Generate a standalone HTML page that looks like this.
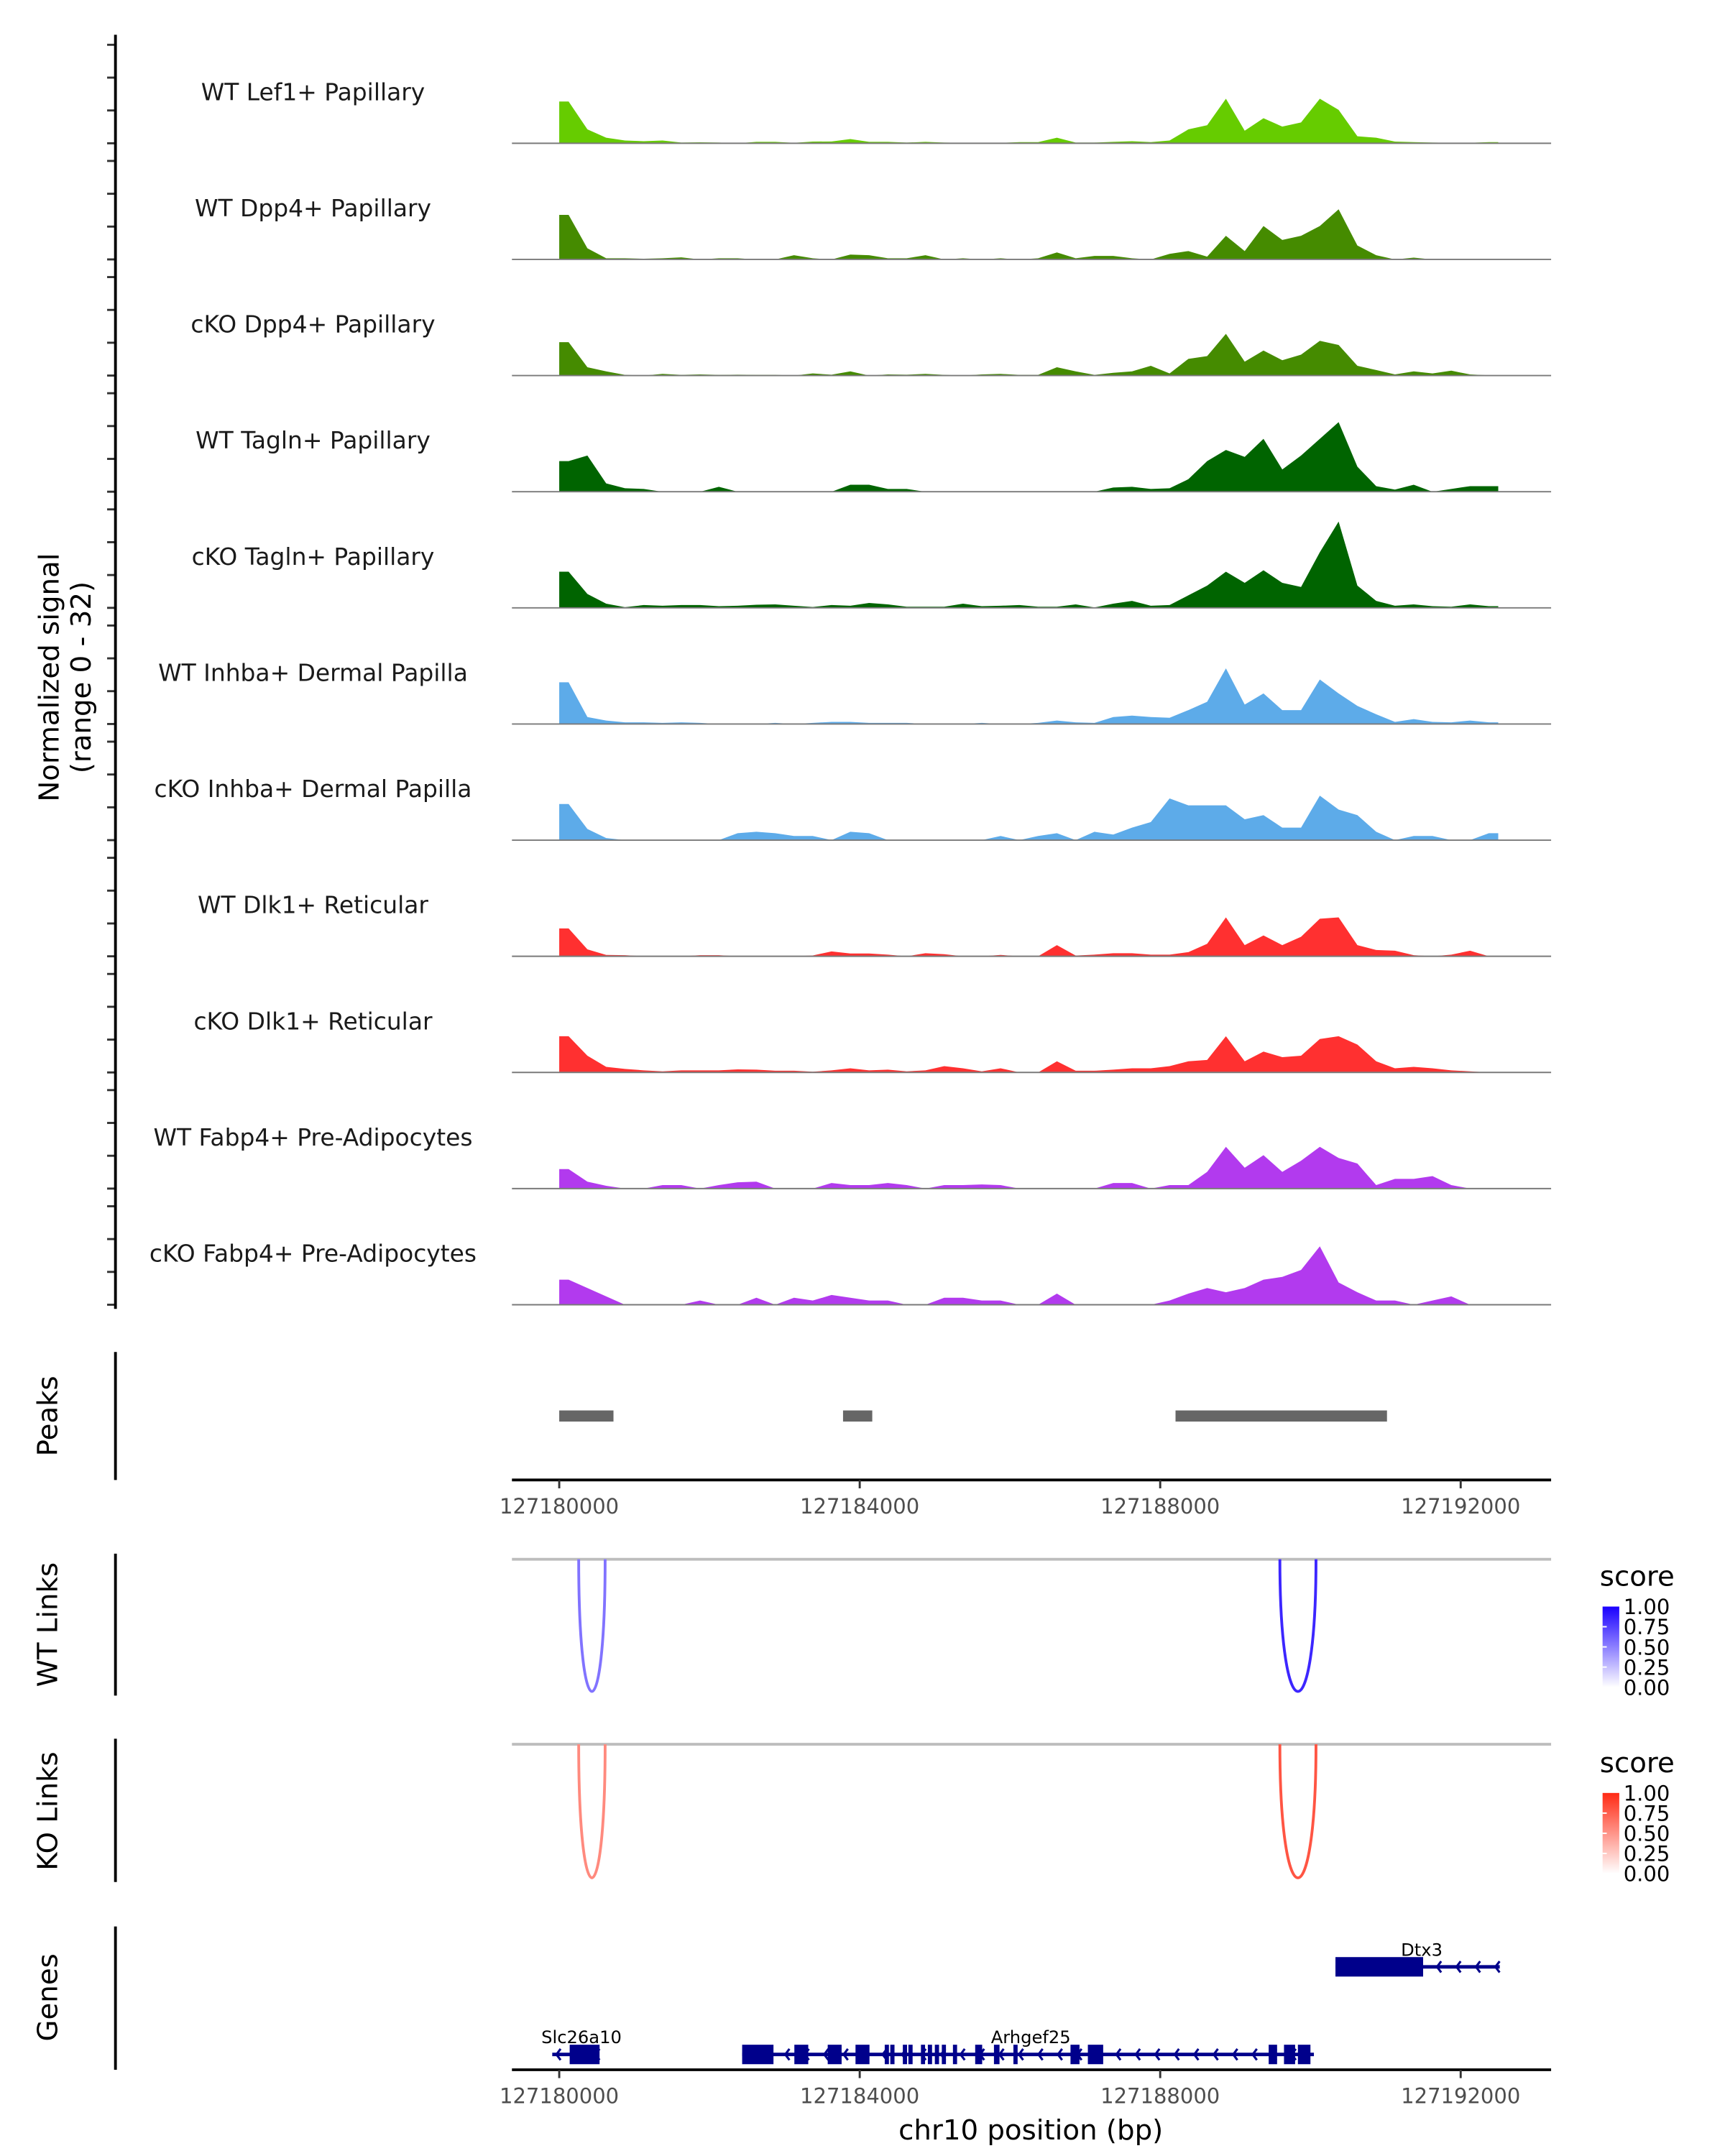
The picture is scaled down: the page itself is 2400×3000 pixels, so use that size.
<!DOCTYPE html>
<html><head><meta charset="utf-8"><style>
html,body{margin:0;padding:0;background:#fff;}
svg{display:block;}
text{font-family:"DejaVu Sans","Liberation Sans",sans-serif;}
</style></head>
<body>
<svg id="chart" xmlns="http://www.w3.org/2000/svg" width="2400" height="3000" viewBox="0 0 1240 1550" preserveAspectRatio="none">
<rect x="0" y="0" width="1240" height="1550" fill="#fff"/>
<g id="tracks"></g>
<line x1="83" y1="25" x2="83" y2="941" stroke="#000" stroke-width="2"/>
<text transform="translate(42,487) rotate(-90)" text-anchor="middle" font-size="20" fill="#000">Normalized signal</text>
<text transform="translate(65,487) rotate(-90)" text-anchor="middle" font-size="20" fill="#000">(range 0 - 32)</text>
<g id="peaks"></g>
<line x1="83" y1="972" x2="83" y2="1064" stroke="#000" stroke-width="2"/>
<text transform="translate(41,1018) rotate(-90)" text-anchor="middle" font-size="20" fill="#000">Peaks</text>
<g id="links"></g>
<line x1="83" y1="1117" x2="83" y2="1219" stroke="#000" stroke-width="2"/>
<text transform="translate(41,1168) rotate(-90)" text-anchor="middle" font-size="20" fill="#000">WT Links</text>
<line x1="83" y1="1250" x2="83" y2="1353" stroke="#000" stroke-width="2"/>
<text transform="translate(41,1302) rotate(-90)" text-anchor="middle" font-size="20" fill="#000">KO Links</text>
<g id="genes"></g>
<line x1="83" y1="1385" x2="83" y2="1488" stroke="#000" stroke-width="2"/>
<text transform="translate(41,1436) rotate(-90)" text-anchor="middle" font-size="20" fill="#000">Genes</text>
<text x="741" y="1538" text-anchor="middle" font-size="20" fill="#000">chr10 position (bp)</text>
<defs>
<linearGradient id="gradWT" x1="0" y1="1" x2="0" y2="0"><stop offset="0" stop-color="#ffffff"/><stop offset="1" stop-color="#1a00ff"/></linearGradient>
<linearGradient id="gradKO" x1="0" y1="1" x2="0" y2="0"><stop offset="0" stop-color="#ffffff"/><stop offset="1" stop-color="#ff2a14"/></linearGradient>
</defs>
</svg>
<script>
// ---- data ----
const trackNames = ["WT Lef1+ Papillary","WT Dpp4+ Papillary","cKO Dpp4+ Papillary","WT Tagln+ Papillary","cKO Tagln+ Papillary","WT Inhba+ Dermal Papilla","cKO Inhba+ Dermal Papilla","WT Dlk1+ Reticular","cKO Dlk1+ Reticular","WT Fabp4+ Pre-Adipocytes","cKO Fabp4+ Pre-Adipocytes"];
const trackColors = ["#66cc00","#458b00","#458b00","#006400","#006400","#5dabe9","#5dabe9","#ff3030","#ff3030","#b23aee","#b23aee"];
// signal per 250bp bin from 127180000 (scale units: 0-80 = full track)
const sigLef1WT = [30,10,4,2,1.5,2,0.5,0.7,0.5,0,1,1,0.3,1.2,1.3,3,1,1,0.5,1,0.5,0.3,0,0.3,0.8,0.8,4,0.5,0.5,1,1.5,0.8,2,10,13,32,9,18,12,15,32,24,5,4,1.2,0.8,0.5,0.3,0.3,0.8];
const sigDpp4WT = [32,8,0.8,0.8,0.5,0.8,1.5,0,0.8,0.8,0,0,3,0.8,0,3.5,3,0.8,0.8,3,0,0.8,0,0.8,0,0.8,5,0.8,2.5,2.5,0.8,0,4,6,2,17,6,24,14,17,24,36,10,3,0,1.3,0,0,0,0.5];
const sigDpp4KO = [24,6,3,0.5,0,1.2,0.5,0.8,0.5,0.6,0.5,0.5,0,1.5,0.6,3,0,0.8,0.6,1.2,0.5,0,0.8,1.2,0.5,0.5,6,3,0.5,2,3,7,1.5,12,14,30,10,18,11,15,25,22,7,4,0.8,3,1.5,3.5,0.8,0.2];
const sigTaglnWT = [22,26,6,2.5,2,0,0,0,3.5,0,0,0,0,0,0,5,5,2,2,0,0,0,0,0,0,0,0,0,0,3,3.5,2,2.5,9,22,30,25,38,16,26,38,50,18,4,1.5,5,0,2,4,4];
const sigTaglnKO = [26,10,3,0.5,2,1.5,2,2,1.2,1.5,2.2,2.5,1.5,0.6,2,1.5,3.5,2.5,0.8,0.8,0.8,3,1.2,1.5,2,0.8,0.8,2.5,0.3,3,5,1.5,2,9,16,26,18,27,18,15,40,62,16,5,1.5,2.5,1.2,0.8,2.5,1.2];
const sigInhbaWT = [30,5,2.5,1.2,1.2,0.8,1.2,0.8,0,0,0,0.8,0,0.8,1.5,1.5,0.8,0.8,0.8,0,0,0,0.8,0,0,0.8,2.5,1.2,0.8,5,6,5,4.5,10,16,40,14,22,10,10,32,22,13,7,1.5,3.5,1.5,1.2,2.5,1.2];
const sigInhbaKO = [26,8,1.5,0,0,0,0,0,0,5,6,5,3,3,0,6,5,0,0,0,0,0,0,3,0,3,5,0,6,4,9,13,30,25,25,25,15,18,9,9,32,22,18,6,0,3,3,0,0,5];
const sigDlk1WT = [20,5,1,0.8,0,0,0,0.8,0.8,0,0,0,0,0.6,3.5,2,2,1.2,0,2.2,1.5,0,0,1,0,0,8,0.5,1.2,2.2,2.2,1.2,1.2,3,9,28,8,15,8,14,27,28,8,4.5,4,0.8,0,1.2,4,0];
const sigDlk1KO = [26,12,4,2.5,1.5,0.8,1.5,1.5,1.5,2.2,2,1.2,1.2,0.5,1.5,3,1.5,2,0.8,1.5,4.5,3,0.8,3,0,0,8,1.2,1.2,2,3,3,4.5,8,9,26,8,15,11,12,24,26,20,8,3,4,3,1.5,0.8,0];
const sigFabp4WT = [14,5,2,0,0,2.5,2.5,0,2.5,4.5,5,0,0,0,4,2.5,2.5,4,2.5,0,2.5,2.5,3,2.5,0,0,0,0,0,4,4,0,2.5,2.5,12,30,15,24,12,20,30,22,18,2.5,7,7,9,2.5,0,0];
const sigFabp4KO = [18,12,6,0,0,0,0,3,0,0,5,0,5,3,7,5,3,3,0,0,5,5,3,3,0,0,8,0,0,0,0,0,3,8,12,9,12,18,20,25,42,16,9,3,3,0,3,6,0,0];
const trackSignals = [sigLef1WT,sigDpp4WT,sigDpp4KO,sigTaglnWT,sigTaglnKO,sigInhbaWT,sigInhbaKO,sigDlk1WT,sigDlk1KO,sigFabp4WT,sigFabp4KO];
const binKb = 0.25;
// peaks (kb offset from 127180000)
const peakStarts = [0, 3.778, 8.204];
const peakEnds = [0.722, 4.167, 11.019];
// links (kb offsets) and scores
const wtLinkStarts = [0.259, 9.593];
const wtLinkEnds = [0.611, 10.074];
const wtLinkScores = [0.55, 0.85];
const koLinkStarts = [0.259, 9.593];
const koLinkEnds = [0.611, 10.074];
const koLinkScores = [0.55, 0.8];
// genes
const geneNames = ["Slc26a10","Arhgef25","Dtx3"];
const geneStarts = [-0.093, 2.435, 10.333];
const geneEnds = [0.519, 10.046, 12.52];
const geneRows = [1, 1, 0];
const exonGene = [0,1,1,1,1,1,1,1,1,1,1,1,1,1,1,1,1,1,1,1,1,1,2];
const exonStarts = [0.139,2.435,3.130,3.574,3.944,4.333,4.407,4.574,4.648,4.815,4.907,5.000,5.093,5.241,5.537,5.787,6.046,6.806,7.037,9.444,9.648,9.833,10.333];
const exonEnds = [0.537,2.852,3.315,3.759,4.130,4.389,4.463,4.630,4.704,4.870,4.963,5.056,5.148,5.296,5.630,5.861,6.102,6.926,7.241,9.556,9.796,10.000,11.5];
const xTickKb = [0, 4, 8, 12];
const xTickLabels = ["127180000","127184000","127188000","127192000"];
const legendTicks = [1.00, 0.75, 0.50, 0.25, 0.00];
const legendTickLabels = ["1.00","0.75","0.50","0.25","0.00"];

// ---- scales ----
const NS = "http://www.w3.org/2000/svg";
const X0 = 402, PXKB = 54;
function xs(kb){ return X0 + kb * PXKB; }
const trackTop = 103, trackStep = 83.5, trackMax = 80;
function ys(v, base){ return base - v / trackMax * 80; }
function el(tag, attrs, parent){ const e = document.createElementNS(NS, tag); for (const k in attrs) e.setAttribute(k, attrs[k]); parent.appendChild(e); return e; }

const tracksG = document.getElementById('tracks');
trackNames.forEach((name, t) => {
  const base = trackTop + t * trackStep;
  const vals = trackSignals[t];
  let d = `M${xs(0)},${base} L${xs(0)},${ys(vals[0], base)}`;
  vals.forEach((v, i) => { d += ` L${xs((i + 0.5) * binKb).toFixed(2)},${ys(v, base).toFixed(2)}`; });
  d += ` L${xs(vals.length * binKb)},${ys(vals[vals.length-1], base)} L${xs(vals.length * binKb)},${base} Z`;
  const area = el('path', {d: d, fill: trackColors[t]}, tracksG);
  
  
  const bl = el('line', {x1: 368, x2: 1115, y1: base, y2: base, stroke: '#7a7a7a', 'stroke-width': 1}, tracksG);
  
  
  const lbl = el('text', {x: 225, y: base - 31, 'text-anchor': 'middle', 'font-size': 17, fill: '#1a1a1a'}, tracksG);
  lbl.textContent = name;
  
  
  for (let k = 0; k < 4; k++) {
    const tk = el('line', {x1: 77, x2: 83, y1: base - k * 23.6, y2: base - k * 23.6, stroke: '#333', 'stroke-width': 1.5}, tracksG);
    
    
  }
});

// peaks
const peaksG = document.getElementById('peaks');
peakStarts.forEach((s, i) => {
  const r = el('rect', {x: xs(s), y: 1014, width: xs(peakEnds[i]) - xs(s), height: 8, fill: '#666'}, peaksG);
  
  
});
function xAxis(y, g) {
  const ax = el('line', {x1: 368, x2: 1115, y1: y, y2: y, stroke: '#000', 'stroke-width': 2}, g);
  
  
  xTickKb.forEach((kb, i) => {
    const tk = el('line', {x1: xs(kb), x2: xs(kb), y1: y, y2: y + 6, stroke: '#333', 'stroke-width': 1.5}, g);
    
    
    const tl = el('text', {x: xs(kb), y: y + 24, 'text-anchor': 'middle', 'font-size': 15, fill: '#4d4d4d'}, g);
    tl.textContent = xTickLabels[i];
    
    
  });
}
xAxis(1064, peaksG);

// links
const linksG = document.getElementById('links');
function mix(c0, c1, s){ return 'rgb(' + c0.map((c, i) => Math.round(c + (c1[i] - c) * s)).join(',') + ')'; }
function linkPanel(top, bottom, starts, ends, scores, hi, grad, legTop, prefix) {
  const ln = el('line', {x1: 368, x2: 1115, y1: top, y2: top, stroke: '#bdbdbd', 'stroke-width': 2}, linksG);
  
  
  starts.forEach((s, i) => {
    const x1 = xs(s), x2 = xs(ends[i]), h = (bottom - top) * 4 / 3;
    const p = el('path', {d: `M${x1},${top} C${x1},${top + h} ${x2},${top + h} ${x2},${top}`, fill: 'none', stroke: mix([255,255,255], hi, scores[i]), 'stroke-width': 2}, linksG);
    
    
  });
  const tt = el('text', {x: 1150, y: legTop, 'font-size': 20, fill: '#000'}, linksG);
  tt.textContent = 'score';
  
  
  const bTop = legTop + 15, bBot = legTop + 73;
  const bar = el('rect', {x: 1152, y: bTop, width: 12, height: bBot - bTop, fill: grad}, linksG);
  
  
  legendTicks.forEach((v, i) => {
    const y = bBot - v * (bBot - bTop);
    const lt = el('text', {x: 1167, y: y + 5.5, 'font-size': 15, fill: '#000'}, linksG);
    lt.textContent = legendTickLabels[i];
    
    
    if (v > 0 && v < 1) {
      const tk = el('line', {x1: 1152, x2: 1155, y1: y, y2: y, stroke: '#fff', 'stroke-width': 1}, linksG);
      
      
    }
  });
}
linkPanel(1121, 1216, wtLinkStarts, wtLinkEnds, wtLinkScores, [26,0,255], 'url(#gradWT)', 1140, 'wt');
linkPanel(1254, 1350, koLinkStarts, koLinkEnds, koLinkScores, [255,42,20], 'url(#gradKO)', 1274, 'ko');

// genes
const genesG = document.getElementById('genes');
const rowY = [1414, 1477];
geneNames.forEach((g, i) => {
  const y = rowY[geneRows[i]];
  const x1 = xs(geneStarts[i]), x2 = xs(geneEnds[i]);
  const ln = el('line', {x1: x1, x2: x2, y1: y, y2: y, stroke: '#00008b', 'stroke-width': 2.5}, genesG);
  
  
  for (let x = x1 + 3; x < x2 - 2; x += 14) {
    const c = el('path', {d: `M${x + 3},${y - 4} L${x},${y} L${x + 3},${y + 4}`, fill: 'none', stroke: '#00008b', 'stroke-width': 1.6}, genesG);
    
    
  }
  const lbl = el('text', {x: i === 2 ? 1022 : (i === 0 ? 418 : 741), y: y - 8, 'text-anchor': 'middle', 'font-size': 12.5, fill: '#000'}, genesG);
  lbl.textContent = g;
  
  
});
exonStarts.forEach((s, i) => {
  const y = rowY[geneRows[exonGene[i]]];
  const r = el('rect', {x: xs(s), y: y - 7, width: Math.max(2.5, xs(exonEnds[i]) - xs(s)), height: 14, fill: '#00008b'}, genesG);
  
  
});
xAxis(1488, genesG);
</script>
</body></html>
